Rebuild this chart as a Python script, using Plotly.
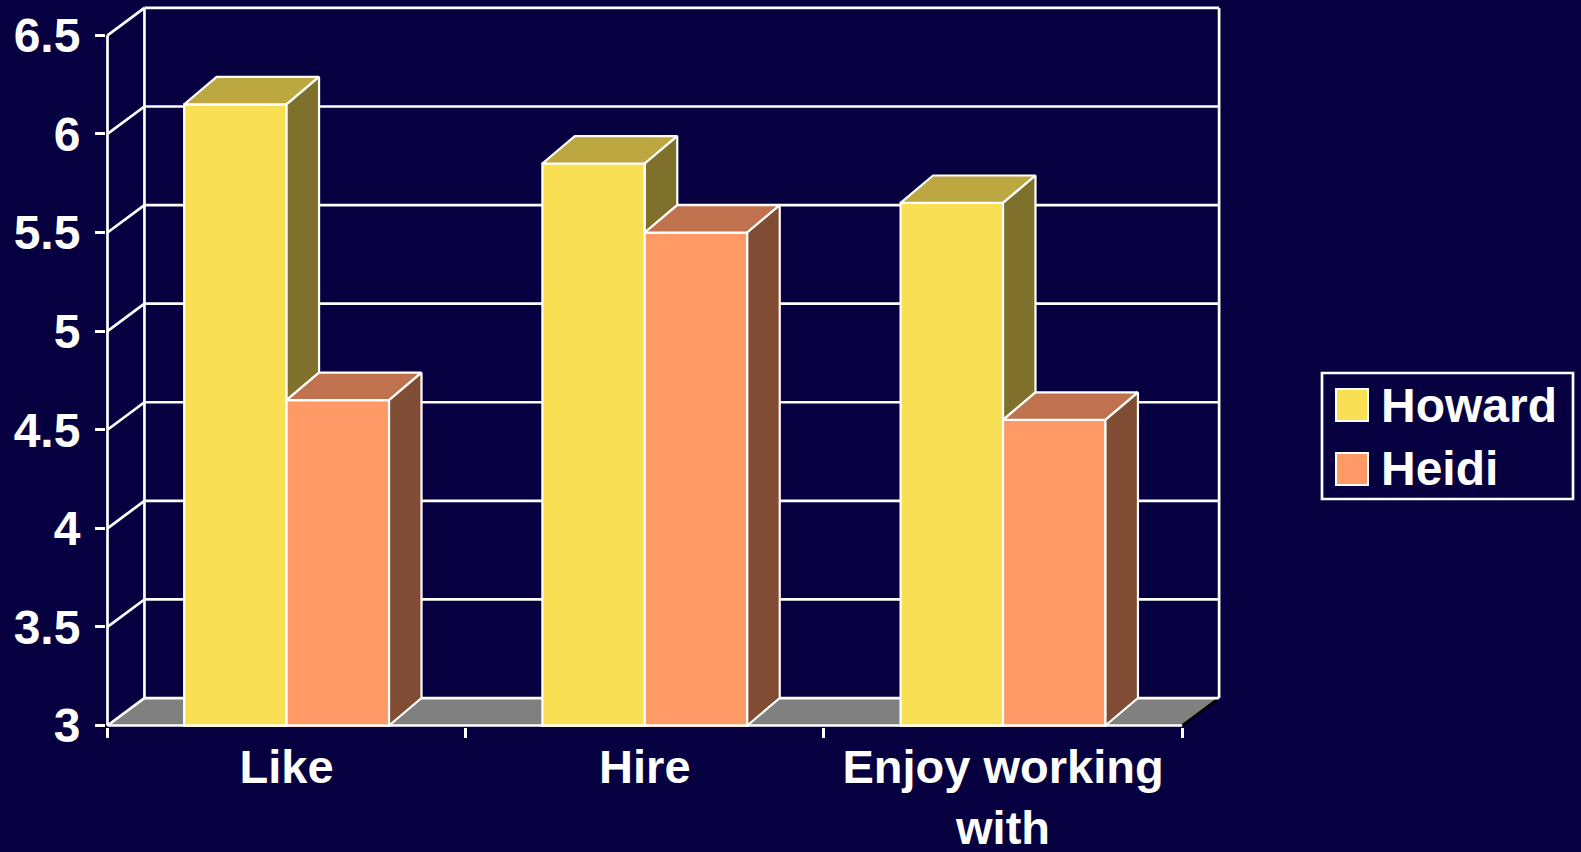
import plotly.graph_objects as go

# ---- data -------------------------------------------------------------
categories = ["Like", "Hire", "Enjoy working<br>with"]
series_names = ["Howard", "Heidi"]
howard = [6.15, 5.85, 5.65]
heidi = [4.65, 5.50, 4.55]
y_ticks = [3, 3.5, 4, 4.5, 5, 5.5, 6, 6.5]
y_tick_labels = ["3", "3.5", "4", "4.5", "5", "5.5", "6", "6.5"]

# ---- styling ----------------------------------------------------------
BG = "#060040"
WHITE = "#FFFFFF"
FLOOR = "#808080"
FRONT = {"Howard": "#F9DF53", "Heidi": "#FF9966"}
TOP = {"Howard": "#BDA740", "Heidi": "#C0714E"}
SIDE = {"Howard": "#7F712C", "Heidi": "#804C33"}
FONT = "Liberation Sans, Arial, Helvetica, sans-serif"
LINE_W = 2.7

W, H = 1581, 852
LEFT_PX, RIGHT_PX = 106, 1222       # plot area in pixels
BASE_PX, TOP_PX = 727, 4
PX_PER_CAT = 358.7                 # pixels per category slot
PX_PER_UNIT = 197.6                # pixels per value unit

Y_MIN = min(y_ticks)
Y_MAX = max(y_ticks)
N = len(categories)

# axis ranges (a hair of padding so the front edges are not clipped)
pad_x = 1.5 / PX_PER_CAT
pad_y = 1.5 / PX_PER_UNIT
x_range = [-pad_x, (RIGHT_PX - LEFT_PX) / PX_PER_CAT]
y_range = [Y_MIN - pad_y, Y_MIN + (BASE_PX - TOP_PX) / PX_PER_UNIT]

# oblique depth offsets (data units)
WALL_DX, WALL_DY = 37 / PX_PER_CAT, 27.5 / PX_PER_UNIT
BAR_DX, BAR_DY = 32.5 / PX_PER_CAT, 27.5 / PX_PER_UNIT
BAR_W = 0.286

centers = [i + 0.5 for i in range(N)]

fig = go.Figure()

# front faces of the columns
for name, vals, off in (("Howard", howard, -BAR_W), ("Heidi", heidi, 0.0)):
    fig.add_trace(go.Bar(
        x=centers, y=vals, width=BAR_W, offset=off, name=name,
        marker=dict(color=FRONT[name], line=dict(color=WHITE, width=2.2)),
        showlegend=False, hoverinfo="skip",
    ))


def face(xs, ys, color):
    fig.add_trace(go.Scatter(
        x=xs + [xs[0]], y=ys + [ys[0]], mode="lines", fill="toself",
        fillcolor=color, line=dict(color=WHITE, width=2.2),
        showlegend=False, hoverinfo="skip",
    ))


# tops and sides of the columns
for c, vw, vh in zip(centers, howard, heidi):
    xl = c - BAR_W        # Howard left
    xm = c                # shared edge
    xr = c + BAR_W        # Heidi right
    # Howard top
    face([xl, xm, xm + BAR_DX, xl + BAR_DX],
         [vw, vw, vw + BAR_DY, vw + BAR_DY], TOP["Howard"])
    # Howard side, only the part rising above the neighbouring column
    if vw > vh:
        face([xm, xm, xm + BAR_DX, xm + BAR_DX],
             [vh, vw, vw + BAR_DY, vh + BAR_DY], SIDE["Howard"])
    # Heidi top
    face([xm, xr, xr + BAR_DX, xm + BAR_DX],
         [vh, vh, vh + BAR_DY, vh + BAR_DY], TOP["Heidi"])
    # Heidi side
    face([xr, xr, xr + BAR_DX, xr + BAR_DX],
         [Y_MIN, vh, vh + BAR_DY, Y_MIN + BAR_DY], SIDE["Heidi"])

# ---- walls, floor and gridlines ---------------------------------------
shapes = []
fx0, fx1 = 0, N
# floor
shapes.append(dict(
    type="path", xref="x", yref="y", layer="below",
    path=(f"M {fx0},{Y_MIN} L {fx1},{Y_MIN} L {fx1 + WALL_DX},{Y_MIN + WALL_DY} "
          f"L {fx0 + WALL_DX},{Y_MIN + WALL_DY} Z"),
    fillcolor=FLOOR, line=dict(width=0),
))
# floor right edge (shadowed)
shapes.append(dict(
    type="line", xref="x", yref="y", layer="below",
    x0=fx1, y0=Y_MIN, x1=fx1 + WALL_DX, y1=Y_MIN + WALL_DY,
    line=dict(color="#000000", width=LINE_W),
))
# back wall gridlines and left wall connectors
for v in y_ticks:
    shapes.append(dict(
        type="line", xref="x", yref="y", layer="below",
        x0=fx0 + WALL_DX, y0=v + WALL_DY, x1=fx1 + WALL_DX, y1=v + WALL_DY,
        line=dict(color=WHITE, width=LINE_W),
    ))
    shapes.append(dict(
        type="line", xref="x", yref="y", layer="below",
        x0=fx0, y0=v, x1=fx0 + WALL_DX, y1=v + WALL_DY,
        line=dict(color=WHITE, width=LINE_W),
    ))
# back wall verticals
for xv in (fx0 + WALL_DX, fx1 + WALL_DX):
    shapes.append(dict(
        type="line", xref="x", yref="y", layer="below",
        x0=xv, y0=Y_MIN + WALL_DY, x1=xv, y1=Y_MAX + WALL_DY,
        line=dict(color=WHITE, width=LINE_W),
    ))
# front axis lines
shapes.append(dict(
    type="line", xref="x", yref="y", layer="above",
    x0=fx0, y0=Y_MIN, x1=fx1, y1=Y_MIN, line=dict(color=WHITE, width=LINE_W),
))
shapes.append(dict(
    type="line", xref="x", yref="y", layer="above",
    x0=fx0, y0=Y_MIN, x1=fx0, y1=Y_MAX, line=dict(color=WHITE, width=LINE_W),
))

# ---- legend box -------------------------------------------------------
plot_w = RIGHT_PX - LEFT_PX + 0.0
plot_h = BASE_PX - TOP_PX + 0.0


def px_x(p):
    return (p - LEFT_PX) / plot_w


def px_y(p):
    return (BASE_PX - p) / plot_h


shapes.append(dict(
    type="rect", xref="paper", yref="paper",
    x0=px_x(1322), x1=px_x(1573), y0=px_y(499), y1=px_y(373),
    line=dict(color=WHITE, width=LINE_W), fillcolor=BG,
))
annotations = []
for i, name in enumerate(series_names):
    top = 389 + i * 64
    shapes.append(dict(
        type="rect", xref="paper", yref="paper",
        x0=px_x(1336), x1=px_x(1368), y0=px_y(top + 32), y1=px_y(top),
        line=dict(color=WHITE, width=2), fillcolor=FRONT[name],
    ))
    annotations.append(dict(
        xref="paper", yref="paper", x=px_x(1379), y=px_y(top + 16),
        xanchor="left", yanchor="middle", showarrow=False, text=name,
        font=dict(family=FONT, size=48, color=WHITE, weight="bold"),
    ))

fig.update_layout(
    width=W, height=H,
    margin=dict(l=LEFT_PX, r=W - RIGHT_PX, t=TOP_PX, b=H - BASE_PX,
                autoexpand=False),
    paper_bgcolor=BG, plot_bgcolor=BG,
    barmode="overlay",
    shapes=shapes, annotations=annotations,
    showlegend=False,
    font=dict(family=FONT, color=WHITE),
    xaxis=dict(
        range=x_range, tickmode="array", tickvals=centers, ticktext=categories,
        ticks="", showgrid=False, zeroline=False, showline=False,
        ticklabelstandoff=8, automargin=False,
        tickfont=dict(family=FONT, size=47, color=WHITE, weight="bold"),
        minor=dict(tickmode="array", tickvals=list(range(N + 1)), ticks="outside",
                   ticklen=10, tickwidth=LINE_W, tickcolor=WHITE, showgrid=False),
        fixedrange=True,
    ),
    yaxis=dict(
        range=y_range, tickmode="array", tickvals=y_ticks, ticktext=y_tick_labels,
        ticks="outside", ticklen=10, tickwidth=LINE_W, tickcolor=WHITE,
        ticklabelstandoff=5, automargin=False,
        showgrid=False, zeroline=False, showline=False,
        tickfont=dict(family=FONT, size=48, color=WHITE, weight="bold"),
        fixedrange=True,
    ),
)

fig.write_html("out.html")
